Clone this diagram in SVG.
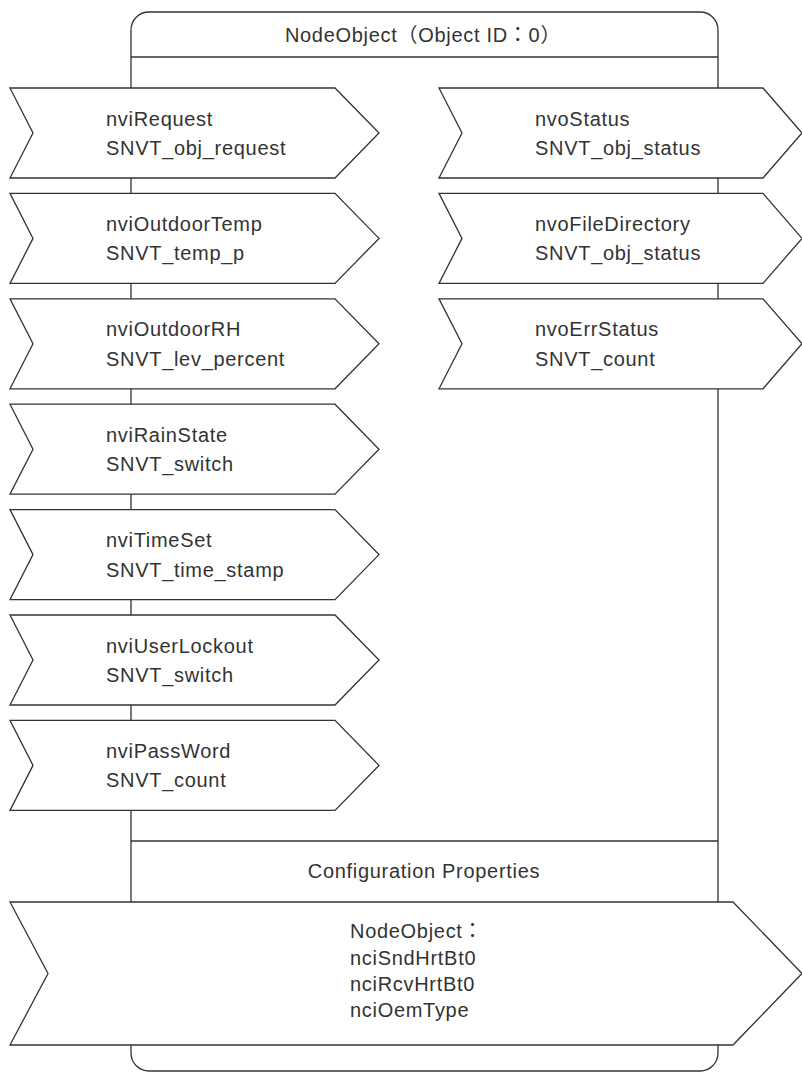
<svg xmlns="http://www.w3.org/2000/svg" width="802" height="1072" viewBox="0 0 802 1072">
<style>
.ln{fill:none;stroke:#333;stroke-width:1.3}
.ch{fill:#fff;stroke:#333;stroke-width:1.3;stroke-linejoin:miter}
.t{font-family:"Liberation Sans","Noto Sans CJK JP",sans-serif;font-size:20px;fill:#333;letter-spacing:0.7px}
.c{text-anchor:middle}
</style>
<rect width="802" height="1072" fill="#fff"/>
<g id="node-object">
<rect class="ln" x="131" y="12" width="587" height="1059" rx="18" ry="18"/>
<line class="ln" x1="131" y1="57" x2="718" y2="57"/>
<text class="t c" x="423" y="42">NodeObject（Object ID：0）</text>
</g>
<g id="config-header">
<line class="ln" x1="131" y1="841" x2="718" y2="841"/>
<text class="t c" x="424" y="878">Configuration Properties</text>
</g>
<g id="connectors"></g>
<g id="nviRequest">
<polygon class="ch" points="10,88 335,88 379,133 335,178 10,178 33,133"/>
<text class="t" x="106" y="125.5">nviRequest</text>
<text class="t" x="106" y="155">SNVT_obj_request</text>
</g>
<g id="nviOutdoorTemp">
<polygon class="ch" points="10,193.4 335,193.4 379,238.4 335,283.4 10,283.4 33,238.4"/>
<text class="t" x="106" y="230.9">nviOutdoorTemp</text>
<text class="t" x="106" y="260.4">SNVT_temp_p</text>
</g>
<g id="nviOutdoorRH">
<polygon class="ch" points="10,298.8 335,298.8 379,343.8 335,388.8 10,388.8 33,343.8"/>
<text class="t" x="106" y="336.3">nviOutdoorRH</text>
<text class="t" x="106" y="365.8">SNVT_lev_percent</text>
</g>
<g id="nviRainState">
<polygon class="ch" points="10,404.2 335,404.2 379,449.2 335,494.2 10,494.2 33,449.2"/>
<text class="t" x="106" y="441.7">nviRainState</text>
<text class="t" x="106" y="471.2">SNVT_switch</text>
</g>
<g id="nviTimeSet">
<polygon class="ch" points="10,509.6 335,509.6 379,554.6 335,599.6 10,599.6 33,554.6"/>
<text class="t" x="106" y="547.1">nviTimeSet</text>
<text class="t" x="106" y="576.6">SNVT_time_stamp</text>
</g>
<g id="nviUserLockout">
<polygon class="ch" points="10,615 335,615 379,660 335,705 10,705 33,660"/>
<text class="t" x="106" y="652.5">nviUserLockout</text>
<text class="t" x="106" y="682">SNVT_switch</text>
</g>
<g id="nviPassWord">
<polygon class="ch" points="10,720.4 335,720.4 379,765.4 335,810.4 10,810.4 33,765.4"/>
<text class="t" x="106" y="757.9">nviPassWord</text>
<text class="t" x="106" y="787.4">SNVT_count</text>
</g>
<g id="nvoStatus">
<polygon class="ch" points="439,88 763,88 802,133 763,178 439,178 462,133"/>
<text class="t" x="535" y="125.5">nvoStatus</text>
<text class="t" x="535" y="155">SNVT_obj_status</text>
</g>
<g id="nvoFileDirectory">
<polygon class="ch" points="439,193.4 763,193.4 802,238.4 763,283.4 439,283.4 462,238.4"/>
<text class="t" x="535" y="230.9">nvoFileDirectory</text>
<text class="t" x="535" y="260.4">SNVT_obj_status</text>
</g>
<g id="nvoErrStatus">
<polygon class="ch" points="439,298.8 763,298.8 802,343.8 763,388.8 439,388.8 462,343.8"/>
<text class="t" x="535" y="336.3">nvoErrStatus</text>
<text class="t" x="535" y="365.8">SNVT_count</text>
</g>
<g id="nci-properties">
<polygon class="ch" points="10,902 733,902 802,973.5 733,1045 10,1045 48,973.5"/>
<text class="t" x="350" y="938">NodeObject：</text>
<text class="t" x="350" y="965">nciSndHrtBt0</text>
<text class="t" x="350" y="991">nciRcvHrtBt0</text>
<text class="t" x="350" y="1017">nciOemType</text>
</g>
</svg>
